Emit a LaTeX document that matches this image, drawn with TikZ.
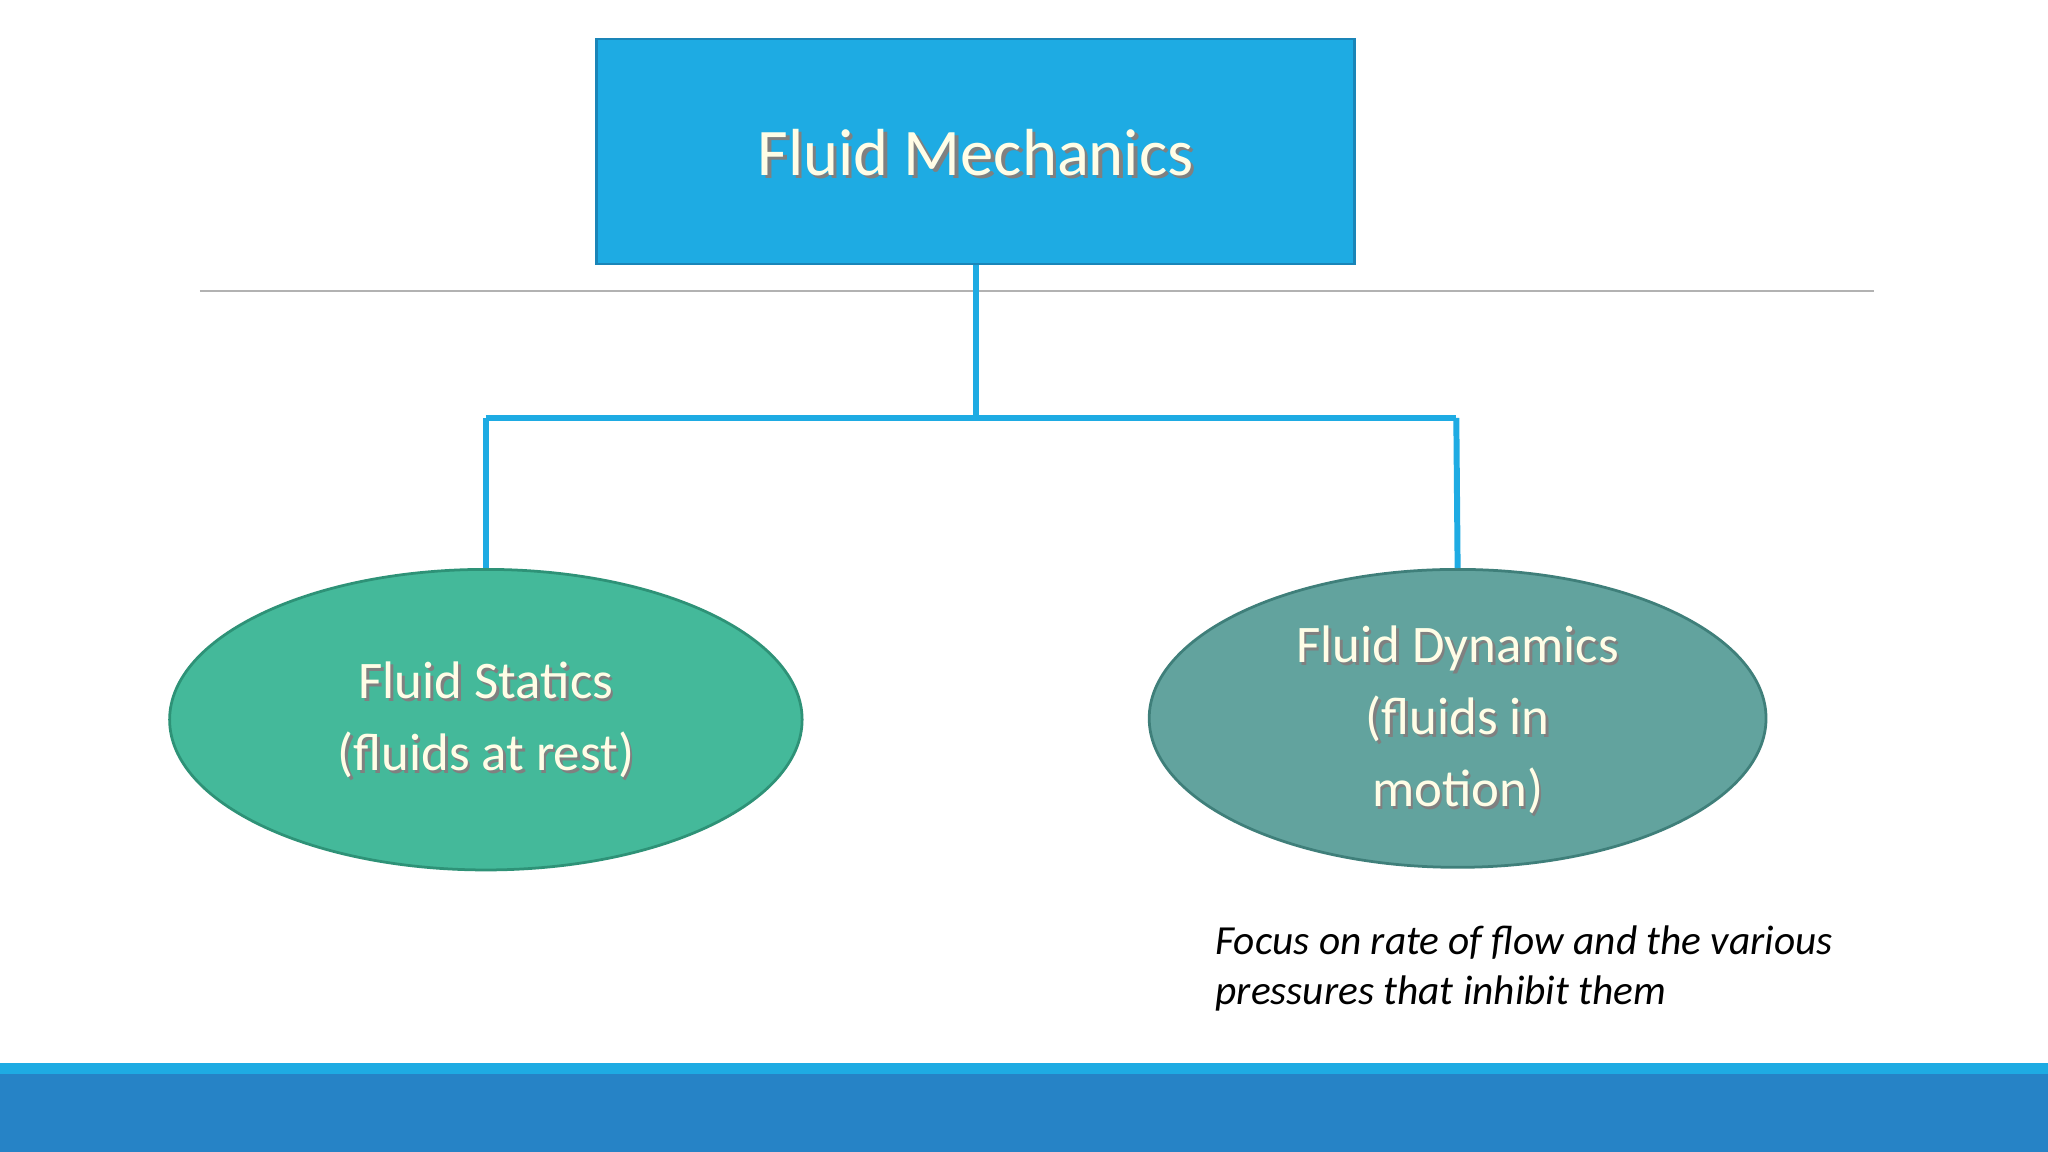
\documentclass[tikz,border=0pt]{standalone}
\usepackage{fontspec}
\setmainfont{Carlito}
\usetikzlibrary{shapes.geometric,shadows}
\definecolor{topblue}{HTML}{1EABE3}
\definecolor{topedge}{HTML}{1A85B8}
\definecolor{statfill}{HTML}{44B99A}
\definecolor{statedge}{HTML}{2E9277}
\definecolor{dynfill}{HTML}{62A39E}
\definecolor{dynedge}{HTML}{3F7F7A}
\definecolor{band}{HTML}{2683C6}
\definecolor{cream}{HTML}{FFFDE6}
\tikzset{
 lbl/.style={text=cream,align=center},
 conn/.style={draw=topblue,line width=1.3pt},
}
\begin{document}
\begin{tikzpicture}[x=0.01cm,y=-0.01cm]
\useasboundingbox (0,0) rectangle (1568,882);
\fill[white] (0,0) rectangle (1568,882);
\fill[topblue] (0,814) rectangle (1568,822);
\fill[band] (0,822) rectangle (1568,882);
\draw[gray!60,line width=0.5pt] (153,223) -- (1435,223);
\node[draw=topedge,fill=topblue,line width=0.6pt,minimum width=580\pgflinewidth,inner sep=0,
  minimum width=5.8cm,minimum height=1.72cm] (fm) at (747,116) {};
\node[lbl,font=\fontsize{14.5}{17}\selectfont] at (748,118) {\textcolor{black!45}{}};
\node[lbl,font=\fontsize{14.5}{17}\selectfont] at (749.5,119.5) {\textcolor{black!50}{Fluid Mechanics}};
\node[lbl,font=\fontsize{14.5}{17}\selectfont] at (747,117) {Fluid Mechanics};
\node[ellipse,draw=statedge,fill=statfill,line width=0.6pt,minimum width=4.84cm,minimum height=2.3cm,inner sep=0] (fs) at (372,551) {};
\node[ellipse,draw=dynedge,fill=dynfill,line width=0.6pt,minimum width=4.72cm,minimum height=2.28cm,inner sep=0] (fd) at (1116,550) {};
\node[lbl,text=black!50,font=\fontsize{11.5}{15.6}\selectfont] at (374,553.5) {Fluid Statics\\(fluids at rest)};
\node[lbl,font=\fontsize{11.5}{15.6}\selectfont] at (372,551) {Fluid Statics\\(fluids at rest)};
\node[lbl,text=black!50,font=\fontsize{11.5}{15.6}\selectfont] at (1118,553.5) {Fluid Dynamics\\(fluids in\\motion)};
\node[lbl,font=\fontsize{11.5}{15.6}\selectfont] at (1116,551) {Fluid Dynamics\\(fluids in\\motion)};
\coordinate (j) at (747,320);
\coordinate (jl) at (372,320);
\coordinate (jr) at (1115,320);
\draw[conn] (fm.south) -- (j);
\draw[conn] (jl) -- (jr);
\draw[conn] (jl) -- (fs.north);
\draw[conn] (jr) -- (fd.north);
\node[anchor=north west,align=left,font=\fontsize{9}{11}\itshape\selectfont,inner sep=0] (note) at (930,708) {Focus on rate of flow and the various\\pressures that inhibit them};
\end{tikzpicture}
\end{document}
